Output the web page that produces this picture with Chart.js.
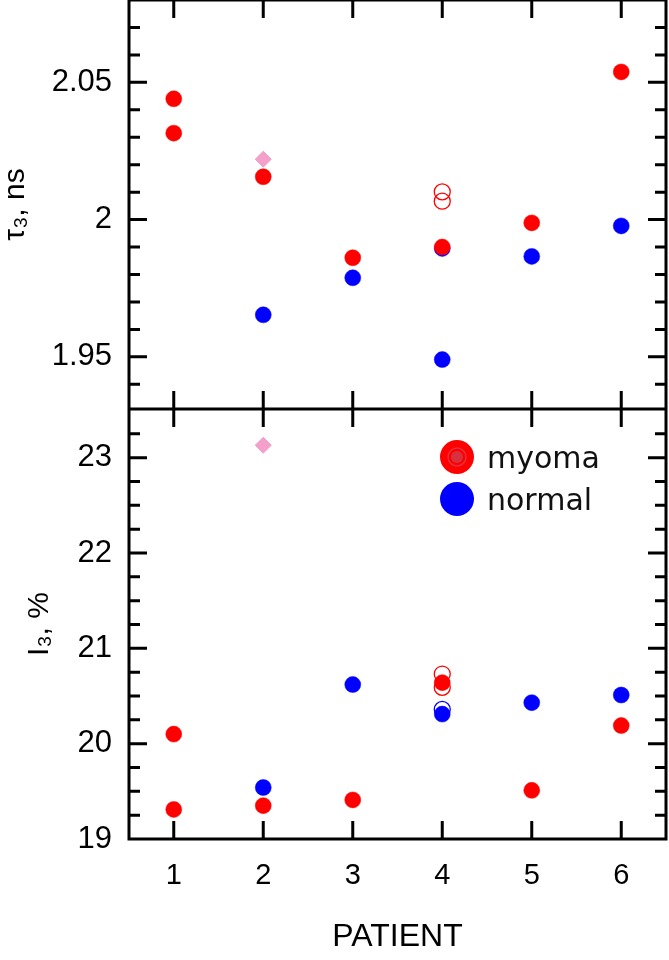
<!DOCTYPE html>
<html>
<head>
<meta charset="utf-8">
<script src="https://cdn.jsdelivr.net/npm/chart.js@4"></script>
<style>
  body { margin: 0; background: #fff; }
  #wrap { width: 669px; height: 960px; }
</style>
</head>
<body>
<div id="wrap"><canvas id="patientChart"></canvas></div>
<script>
// tau3 panel (ns)
const tauMyomaX = [1, 1, 2, 3, 4, 5, 6];
const tauMyoma = [2.044, 2.0315, 2.0156, 1.9861, 1.990, 1.9988, 2.0538];
const tauMyomaOpenX = [4, 4];
const tauMyomaOpen = [2.0101, 2.0067];
const tauNormalX = [2, 3, 4, 4, 5, 6];
const tauNormal = [1.9653, 1.9788, 1.9895, 1.949, 1.9866, 1.9977];
const tauPinkX = [2];
const tauPink = [2.022];

// I3 panel (%)
const iMyomaX = [1, 1, 2, 3, 4, 5, 6];
const iMyoma = [20.10, 19.31, 19.35, 19.41, 20.64, 19.51, 20.19];
const iMyomaOpenX = [4, 4];
const iMyomaOpen = [20.73, 20.59];
const iNormalX = [2, 3, 4, 5, 6];
const iNormal = [19.54, 20.62, 20.31, 20.43, 20.51];
const iNormalOpenX = [4];
const iNormalOpen = [20.36];
const iPinkX = [2];
const iPink = [23.13];

const patients = [1, 2, 3, 4, 5, 6];
const tauTicks = [1.95, 2, 2.05];
const iTicks = [19, 20, 21, 22, 23];
const legendLabels = ["myoma", "normal"];

const RED = "#ff0000", BLUE = "#0000ff", PINK = "#f5a0cb";
const FONT = "'Liberation Sans', Arial, sans-serif";

function pts(xs, ys) {
    return xs.map((x, i) => ({ x: x, y: ys[i] }));
}

function filled(data, axis, color) {
    return { data: data, yAxisID: axis, pointRadius: 8, pointHoverRadius: 8,
        backgroundColor: color, borderColor: color, borderWidth: 0.5 };
}
function open(data, axis, color) {
    return { data: data, yAxisID: axis, pointRadius: 8, pointHoverRadius: 8,
        backgroundColor: "rgba(0,0,0,0)", borderColor: color, borderWidth: 1.3 };
}
function diamond(data, axis) {
    return { data: data, yAxisID: axis, pointStyle: "rectRot", pointRadius: 8, pointHoverRadius: 8,
        backgroundColor: PINK, borderColor: "#e995c0", borderWidth: 0.8 };
}

function noPad(s) {
    s.paddingTop = 0; s.paddingBottom = 0;
    s.paddingLeft = 0; s.paddingRight = 0;
}

// inward ticks on all sides, divider, legend
const framePlugin = {
    id: "frame",
    afterDraw(chart) {
        const ctx = chart.ctx;
        const a = chart.chartArea;
        const xs = chart.scales.x;
        const panels = [chart.scales.yTop, chart.scales.yBot];
        ctx.save();
        ctx.strokeStyle = "#000";
        ctx.lineWidth = 3;
        ctx.beginPath();
        panels.forEach(s => {
            ctx.rect(a.left, s.top, a.right - a.left, s.bottom - s.top);
        });
        // x ticks at top and bottom of each panel
        panels.forEach(s => {
            patients.forEach(p => {
                const px = xs.getPixelForValue(p);
                ctx.moveTo(px, s.top); ctx.lineTo(px, s.top + 18);
                ctx.moveTo(px, s.bottom); ctx.lineTo(px, s.bottom - 18);
            });
        });
        // y ticks, major and minor
        const minor = [{ s: panels[0], step: 0.01, major: tauTicks }, { s: panels[1], step: 0.25, major: iTicks }];
        minor.forEach(m => {
            const s = m.s;
            const n0 = Math.ceil(s.min / m.step - 1e-6), n1 = Math.floor(s.max / m.step + 1e-6);
            for (let n = n0; n <= n1; n++) {
                const v = n * m.step;
                const isMajor = m.major.some(t => Math.abs(t - v) < 1e-6);
                const len = isMajor ? 18 : 11;
                const py = s.getPixelForValue(v);
                if (py <= s.top + 2 || py >= s.bottom - 2) continue;
                ctx.moveTo(a.left, py); ctx.lineTo(a.left + len, py);
                ctx.moveTo(a.right, py); ctx.lineTo(a.right - len, py);
            }
        });
        ctx.stroke();

        // legend inside lower panel
        const lx = a.right - 209, ly = panels[1].top + 48;
        ctx.beginPath();
        ctx.fillStyle = RED;
        ctx.arc(lx, ly, 17, 0, Math.PI * 2);
        ctx.fill();
        ctx.beginPath();
        ctx.fillStyle = "#d7303e";
        ctx.arc(lx, ly, 6, 0, Math.PI * 2);
        ctx.fill();
        ctx.beginPath();
        ctx.strokeStyle = "#e0303c";
        ctx.lineWidth = 1.5;
        ctx.arc(lx, ly, 9, 0, Math.PI * 2);
        ctx.stroke();
        ctx.beginPath();
        ctx.fillStyle = BLUE;
        ctx.arc(lx, ly + 42, 17, 0, Math.PI * 2);
        ctx.fill();
        ctx.fillStyle = "#111";
        ctx.font = "30px 'DejaVu Sans', sans-serif";
        ctx.textBaseline = "alphabetic";
        ctx.textAlign = "left";
        ctx.fillText(legendLabels[0], lx + 30, ly + 11);
        ctx.fillText(legendLabels[1], lx + 30, ly + 53);
        ctx.restore();
    }
};

new Chart(document.getElementById("patientChart"), {
    type: "scatter",
    data: {
        datasets: [
            diamond(pts(tauPinkX, tauPink), "yTop"),
            open(pts(tauMyomaOpenX, tauMyomaOpen), "yTop", RED),
            filled(pts(tauMyomaX, tauMyoma), "yTop", RED),
            filled(pts(tauNormalX, tauNormal), "yTop", BLUE),
            diamond(pts(iPinkX, iPink), "yBot"),
            open(pts(iMyomaOpenX, iMyomaOpen), "yBot", RED),
            filled(pts(iMyomaX, iMyoma), "yBot", RED),
            open(pts(iNormalOpenX, iNormalOpen), "yBot", BLUE),
            filled(pts(iNormalX, iNormal), "yBot", BLUE)
        ]
    },
    options: {
        responsive: true,
        maintainAspectRatio: false,
        animation: false,
        layout: { autoPadding: false, padding: { top: 0, right: 3, bottom: 0, left: 0 } },
        plugins: { legend: { display: false }, tooltip: { enabled: false } },
        scales: {
            x: {
                type: "linear", min: 0.5, max: 6.5,
                afterBuildTicks: s => { s.ticks = patients.map(v => ({ value: v })); },
                afterFit: s => { s.height = 121; noPad(s); },
                grid: { display: false, drawTicks: false },
                border: { display: false },
                ticks: { padding: 20, color: "#000", font: { family: FONT, size: 29 } },
                title: { display: true, text: "PATIENT", color: "#000", padding: { top: 14 },
                    font: { family: FONT, size: 32 } }
            },
            yBot: {
                type: "linear", position: "left", stack: "p", stackWeight: 430,
                min: 19, max: 23.51,
                afterBuildTicks: s => { s.ticks = iTicks.map(v => ({ value: v })); },
                afterFit: s => { s.width = 129; noPad(s); },
                grid: { display: false, drawTicks: false },
                border: { display: false },
                ticks: { padding: 17, color: "#000", font: { family: FONT, size: 31 },
                    callback: v => String(v) },
                title: { display: true, text: "I₃, %", color: "#000", padding: { top: 25, bottom: 0 },
                    font: { family: FONT, size: 30, lineHeight: 1 } }
            },
            yTop: {
                type: "linear", position: "left", stack: "p", stackWeight: 409,
                min: 1.931, max: 2.08,
                afterBuildTicks: s => { s.ticks = tauTicks.map(v => ({ value: v })); },
                afterFit: s => { s.width = 129; noPad(s); },
                grid: { display: false, drawTicks: false },
                border: { display: false },
                ticks: { padding: 17, color: "#000", font: { family: FONT, size: 31 },
                    callback: v => String(v) },
                title: { display: true, text: "τ₃, ns", color: "#000", padding: { top: 1, bottom: 0 },
                    font: { family: FONT, size: 30, lineHeight: 1 } }
            }
        }
    },
    plugins: [framePlugin]
});
</script>
</body>
</html>
